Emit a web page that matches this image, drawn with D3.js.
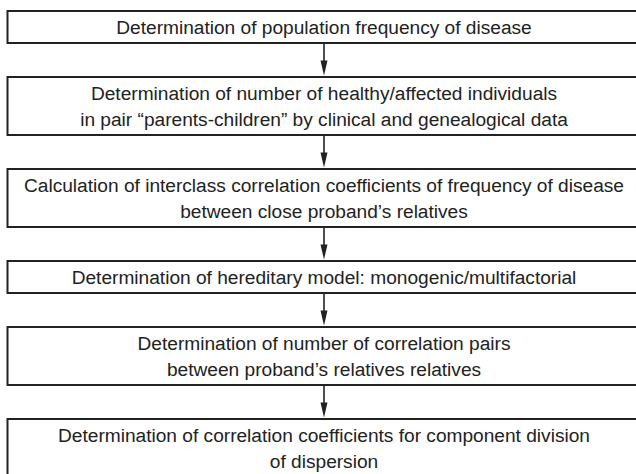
<!DOCTYPE html>
<html>
<head>
<meta charset="utf-8">
<script src="https://cdn.jsdelivr.net/npm/d3@7"></script>
<style>
  html, body { margin: 0; padding: 0; background: #fff; }
  svg { display: block; }
</style>
</head>
<body>
<svg id="chart" width="636" height="474"></svg>
<script>
// Flowchart steps (text lines per box)
const steps = [
  ["Determination of population frequency of disease"],
  ["Determination of number of healthy/affected individuals",
   "in pair \u201cparents-children\u201d by clinical and genealogical data"],
  ["Calculation of interclass correlation coefficients of frequency of disease",
   "between close proband\u2019s relatives"],
  ["Determination of hereditary model: monogenic/multifactorial"],
  ["Determination of number of correlation pairs",
   "between proband\u2019s relatives relatives"],
  ["Determination of correlation coefficients for component division",
   "of dispersion"]
];

const W = 636, H = 474;
const svg = d3.select("#chart");
const ink = "#222";

// Layout in abstract units: box height depends on number of lines
const lineH = 26, padH = 6, gap = 34;
const heights = steps.map(s => s.length * lineH + padH);
const tops = [];
let acc = 0;
heights.forEach(h => { tops.push(acc); acc += h + gap; });

const y = d3.scaleLinear().domain([0, 1]).range([11, 12]); // 1 unit = 1px, offset 11
const x = d3.scaleLinear().domain([0, 1]).range([7.5, 645]);
const cx = 324;
const fontSize = 19;
const targetFirstWidth = 416; // measured width of first line in reference

const g = svg.append("g");

const boxes = g.selectAll("g.step").data(steps).join("g").attr("class", "step");

boxes.append("rect")
  .attr("x", x(0))
  .attr("y", (d, i) => y(tops[i]))
  .attr("width", x(1) - x(0))
  .attr("height", (d, i) => heights[i])
  .attr("fill", "#fff")
  .attr("stroke", ink)
  .attr("stroke-width", 2);

const textG = boxes.append("g").attr("class", "txt");
textG.each(function(d, i) {
  const sel = d3.select(this);
  const cy = y(tops[i]) + heights[i] / 2;
  const n = d.length;
  d.forEach((line, j) => {
    sel.append("text")
      .attr("x", 0)
      .attr("y", cy + (j - (n - 1) / 2) * lineH + 7)
      .attr("text-anchor", "middle")
      .attr("font-family", "'Liberation Sans', Arial, sans-serif")
      .attr("font-size", fontSize)
      .attr("fill", ink)
      .text(line);
  });
});

// horizontal condensing to mimic the condensed typeface
const firstLen = textG.select("text").node().getComputedTextLength();
const sx = targetFirstWidth / firstLen;
textG.attr("transform", `translate(${cx},0) scale(${sx},1)`);

// Arrows between boxes
const arrows = d3.range(steps.length - 1);
const ag = g.selectAll("g.arrow").data(arrows).join("g").attr("class", "arrow");
ag.append("line")
  .attr("x1", cx).attr("x2", cx)
  .attr("y1", i => y(tops[i]) + heights[i])
  .attr("y2", i => y(tops[i + 1]) - 12)
  .attr("stroke", ink).attr("stroke-width", 1.6);
ag.append("path")
  .attr("d", i => {
    const tip = y(tops[i + 1]) - 1.5;
    return `M${cx - 3.5},${tip - 15} L${cx + 3.5},${tip - 15} L${cx},${tip} Z`;
  })
  .attr("fill", ink);
</script>
</body>
</html>
